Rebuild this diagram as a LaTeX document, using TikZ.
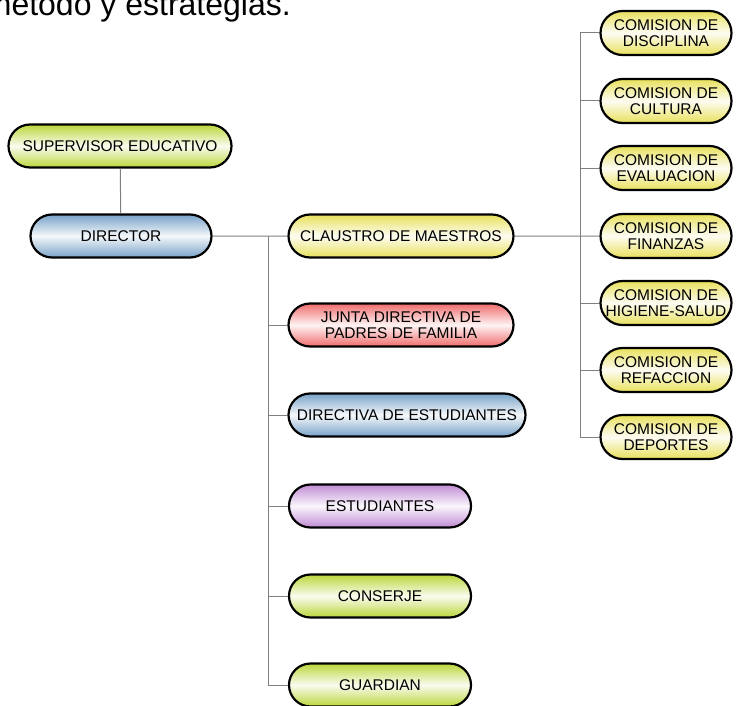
\documentclass[tikz,border=0pt]{standalone}
\usepackage{fontspec}
\setmainfont{Liberation Sans}
\usetikzlibrary{shapes.misc}

\definecolor{leafgreen}{RGB}{186,214,58}
\definecolor{steelblue}{RGB}{120,162,200}
\definecolor{strawyellow}{RGB}{232,224,92}
\definecolor{rosered}{RGB}{240,108,108}
\definecolor{lilac}{RGB}{192,140,212}

\begin{document}
\begin{tikzpicture}[
            x=1pt, y=-1pt,
            unit/.style={rounded rectangle, draw=black, line width=2.2pt,
            minimum height=43pt, inner sep=0pt, align=center,
            font=\fontsize{15.5}{15.5}\selectfont},
            green unit/.style={unit, top color=leafgreen, bottom color=leafgreen, middle color=leafgreen!8},
            blue unit/.style={unit, top color=steelblue, bottom color=steelblue, middle color=steelblue!8},
            yellow unit/.style={unit, top color=strawyellow, bottom color=strawyellow, middle color=strawyellow!8},
            red unit/.style={unit, top color=rosered, bottom color=rosered, middle color=rosered!8},
            lilac unit/.style={unit, top color=lilac, bottom color=lilac, middle color=lilac!8},
            commission/.style={yellow unit, minimum width=131pt, minimum height=44pt},
            branch/.style={draw=black!50, line width=1pt}
            ]
            \useasboundingbox (0,0) rectangle (736,706);
            \clip (0,0) rectangle (736,706);

            % text above the chart, cut by the top edge
            \node[anchor=base east, inner sep=0pt, font=\fontsize{32}{32}\selectfont] (title) at (291,16) {método y estrategias.};

            % left column
            \node[green unit, minimum width=223pt] (supervisor) at (120,146) {SUPERVISOR EDUCATIVO};
            \node[blue unit, minimum width=181pt] (director) at (121,236) {DIRECTOR};

            % middle column
            \node[yellow unit, minimum width=225pt] (claustro) at (401,236) {CLAUSTRO DE MAESTROS};
            \node[red unit, minimum width=225pt] (junta) at (401,325) {JUNTA DIRECTIVA DE\\PADRES DE FAMILIA};
            \node[blue unit, minimum width=237pt] (directiva) at (407,415) {DIRECTIVA DE ESTUDIANTES};
            \node[lilac unit, minimum width=182pt] (estudiantes) at (380,506) {ESTUDIANTES};
            \node[green unit, minimum width=182pt] (conserje) at (380,596) {CONSERJE};
            \node[green unit, minimum width=182pt] (guardian) at (380,685) {GUARDIAN};

            % commissions
            \node[commission] (disciplina) at (666,33) {COMISION DE\\DISCIPLINA};
            \node[commission] (cultura) at (666,101) {COMISION DE\\CULTURA};
            \node[commission] (evaluacion) at (666,168) {COMISION DE\\EVALUACION};
            \node[commission] (finanzas) at (666,236) {COMISION DE\\FINANZAS};
            \node[commission] (higiene) at (666,303) {COMISION DE\\HIGIENE-SALUD};
            \node[commission] (refaccion) at (666,370) {COMISION DE\\REFACCION};
            \node[commission] (deportes) at (666,437) {COMISION DE\\DEPORTES};

            % connectors
            \coordinate (midtrunk) at (268,236);
            \coordinate (comtrunk) at (580,236);

            \draw[branch] (supervisor) -- (director);
            \draw[branch] (director) -- (claustro);
            \foreach \n in {junta,directiva,estudiantes,conserje,guardian}
                \draw[branch] (midtrunk) |- (\n.west);

            \draw[branch] (claustro) -- (finanzas);
            \foreach \n in {disciplina,cultura,evaluacion,higiene,refaccion,deportes}
                \draw[branch] (comtrunk) |- (\n.west);

        \end{tikzpicture}
\end{document}
